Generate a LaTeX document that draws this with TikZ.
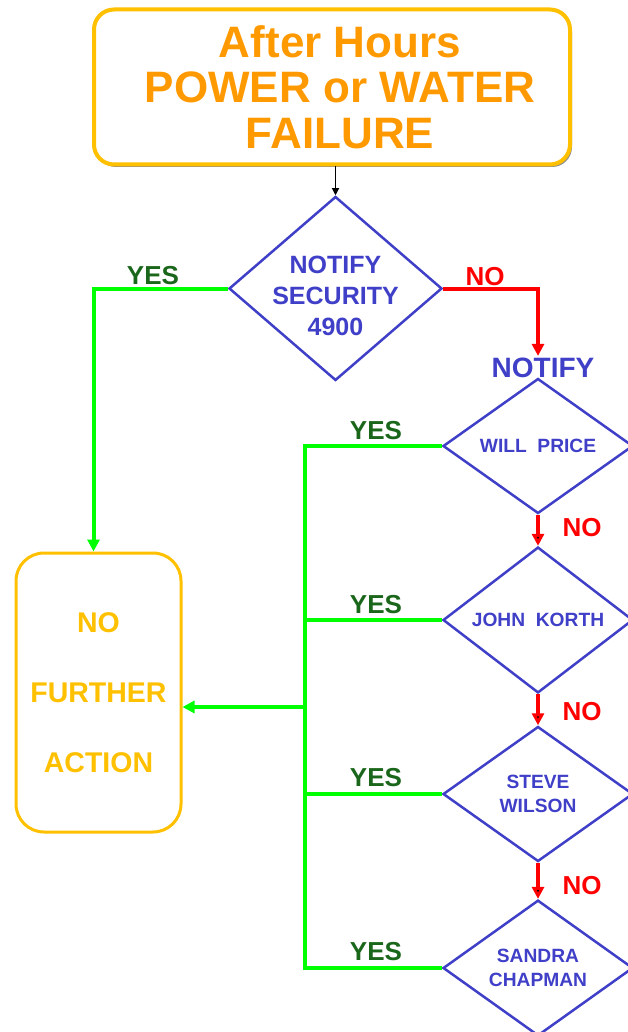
\documentclass[tikz,border=0pt]{standalone}
\usepackage{fontspec}
\setmainfont{Liberation Sans}
\usetikzlibrary{shapes.geometric,arrows.meta,shadows}
\definecolor{hours_orange}{HTML}{FF9900}
\definecolor{box_gold}{HTML}{FFC000}
\definecolor{call_blue}{HTML}{3F3FC8}
\definecolor{yes_green}{HTML}{00FF00}
\definecolor{yes_dark}{HTML}{1A661A}
\definecolor{no_red}{HTML}{FF0000}

\begin{document}
\begin{tikzpicture}[
		x=1pt, y=-1pt,
		title_box/.style={rectangle, rounded corners=20pt, draw=box_gold, line width=4pt, fill=white,
			minimum width=476pt, minimum height=155pt, align=center, text=hours_orange,
			font=\bfseries\fontsize{44}{45.5}\selectfont,
			drop shadow={shadow xshift=2pt, shadow yshift=-2.5pt, fill=black!45, opacity=1}},
		end_box/.style={rectangle, rounded corners=28pt, draw=box_gold, line width=3pt,
			minimum width=165pt, minimum height=279pt, align=center, text=box_gold,
			font=\bfseries\fontsize{28.5}{70}\selectfont},
		choice/.style={diamond, draw=call_blue, line width=2.5pt, inner sep=0pt, align=center,
			text=call_blue, minimum width=190pt, minimum height=135pt,
			font=\bfseries\fontsize{19.2}{24}\selectfont},
		yes_line/.style={draw=yes_green, line width=4pt},
		no_line/.style={draw=no_red, line width=4pt},
		flow/.style={-{Triangle[length=12pt, width=12pt]}},
		yes_text/.style={text=yes_dark, inner sep=0pt, font=\bfseries\fontsize{26}{28}\selectfont},
		no_text/.style={text=no_red, inner sep=0pt, font=\bfseries\fontsize{26}{28}\selectfont}
	]
  \useasboundingbox (0,0) rectangle (628,1032);
  \node (title) [title_box] at (332, 87) {\hspace*{16pt}After Hours\\\hspace*{16pt}POWER or WATER\\\hspace*{16pt}FAILURE};
  \node (security) [choice, aspect=1.15, inner xsep=-4pt, inner ysep=-12pt,
    minimum width=213pt, minimum height=184pt,
    font=\bfseries\fontsize{25}{31}\selectfont] at (335.5, 288.5) {\rule{0pt}{32pt}NOTIFY\\SECURITY\\4900};
  \node (notify) [text=call_blue, inner sep=2pt, font=\bfseries\fontsize{28}{30}\selectfont] at (543, 368) {NOTIFY};
  \node (will) [choice] at (538, 446) {WILL\ \ PRICE};
  \node (john) [choice] at (538, 620) {JOHN\ \ KORTH};
  \node (steve) [choice] at (538, 794) {STEVE\\WILSON};
  \node (sandra) [choice] at (538, 968) {SANDRA\\CHAPMAN};
  \node (nfa) [end_box] at (98.5, 692.5) {NO\\FURTHER\\ACTION};
  \node (yes_0) [yes_text] at (153, 276) {YES};
  \node (no_0) [no_text] at (485, 277) {NO};
  \node (yes_1) [yes_text] at (376, 431) {YES};
  \node (yes_2) [yes_text] at (376, 605) {YES};
  \node (yes_3) [yes_text] at (376, 778) {YES};
  \node (yes_4) [yes_text] at (376, 952) {YES};
  \node (no_1) [no_text] at (582, 528) {NO};
  \node (no_2) [no_text] at (582, 712) {NO};
  \node (no_3) [no_text] at (582, 886) {NO};
  \coordinate (bus_top) at (305, 446);
  \coordinate (bus_mid) at (305, 707);
  \coordinate (bus_bottom) at (305, 968);
  \draw [line width=1pt, -{Triangle[length=7pt, width=7pt]}] (title.south -| security.north) -- (security.north);
  \draw [yes_line, flow] (security.west) -| ([xshift=-5pt]nfa.north);
  \draw [no_line, flow] (security.east) -| (will.north |- notify.north);
  \draw [no_line, flow] (will) edge (john);
  \draw [no_line, flow] (john) edge (steve);
  \draw [no_line, flow] (steve) edge (sandra);
  \draw [yes_line] (will.west) -- (bus_top) -- (bus_bottom) -- (sandra.west);
  \draw [yes_line] (john.west) -- (john.west -| bus_top);
  \draw [yes_line] (steve.west) -- (steve.west -| bus_top);
  \draw [yes_line, flow] (bus_mid) -- (bus_mid -| nfa.east);
\end{tikzpicture}
\end{document}
